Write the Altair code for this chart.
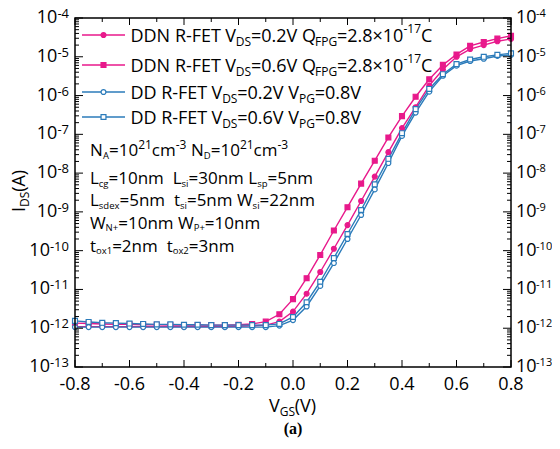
import altair as alt
import pandas as pd

# ---------------- data ----------------
vgs = [-0.80, -0.75, -0.70, -0.65, -0.60, -0.55, -0.50, -0.45, -0.40, -0.35, -0.30,
       -0.25, -0.20, -0.15, -0.10, -0.05, 0.00, 0.05, 0.10, 0.15, 0.20, 0.25, 0.30,
       0.35, 0.40, 0.45, 0.50, 0.55, 0.60, 0.65, 0.70, 0.75, 0.80]

ddn_02 = [1.10e-12, 1.10e-12, 1.10e-12, 1.10e-12, 1.10e-12, 1.10e-12, 1.10e-12, 1.10e-12,
          1.10e-12, 1.10e-12, 1.10e-12, 1.10e-12, 1.12e-12, 1.15e-12, 1.20e-12, 1.48e-12,
          2.69e-12, 7.76e-12, 2.82e-11, 1.12e-10, 4.57e-10, 1.91e-9, 8.13e-9, 3.47e-8,
          1.45e-7, 5.01e-7, 1.80e-6, 4.70e-6, 1.00e-5, 1.58e-5, 2.00e-5, 2.51e-5, 2.88e-5]

ddn_06 = [1.35e-12, 1.32e-12, 1.29e-12, 1.26e-12, 1.26e-12, 1.23e-12, 1.23e-12, 1.20e-12,
          1.20e-12, 1.20e-12, 1.20e-12, 1.20e-12, 1.23e-12, 1.29e-12, 1.48e-12, 2.29e-12,
          5.62e-12, 1.95e-11, 7.76e-11, 3.31e-10, 1.32e-9, 5.37e-9, 2.09e-8, 8.32e-8,
          2.95e-7, 9.33e-7, 2.63e-6, 6.17e-6, 1.15e-5, 1.91e-5, 2.40e-5, 2.95e-5, 3.47e-5]

dd_02 = [1.07e-12, 1.07e-12, 1.07e-12, 1.07e-12, 1.07e-12, 1.07e-12, 1.07e-12, 1.07e-12,
         1.07e-12, 1.07e-12, 1.07e-12, 1.07e-12, 1.07e-12, 1.07e-12, 1.07e-12, 1.17e-12,
         1.62e-12, 3.63e-12, 1.23e-11, 4.79e-11, 2.00e-10, 8.32e-10, 3.80e-9, 1.82e-8,
         9.12e-8, 3.63e-7, 1.26e-6, 3.24e-6, 5.89e-6, 7.76e-6, 8.91e-6, 1.05e-5, 1.12e-5]

dd_06 = [1.55e-12, 1.45e-12, 1.38e-12, 1.35e-12, 1.32e-12, 1.29e-12, 1.26e-12, 1.26e-12,
         1.23e-12, 1.23e-12, 1.20e-12, 1.20e-12, 1.20e-12, 1.20e-12, 1.20e-12, 1.29e-12,
         1.95e-12, 4.68e-12, 1.58e-11, 6.46e-11, 2.69e-10, 1.12e-9, 5.13e-9, 2.34e-8,
         1.07e-7, 4.47e-7, 1.48e-6, 3.55e-6, 6.46e-6, 8.51e-6, 1.00e-5, 1.12e-5, 1.23e-5]

series_names = ["DDN 0.2", "DDN 0.6", "DD 0.2", "DD 0.6"]
series_vals = [ddn_02, ddn_06, dd_02, dd_06]
x_tick_vals = [-0.8, -0.6, -0.4, -0.2, 0.0, 0.2, 0.4, 0.6, 0.8]
x_tick_text = ["-0.8", "-0.6", "-0.4", "-0.2", "0.0", "0.2", "0.4", "0.6", "0.8"]
y_decades = [-13, -12, -11, -10, -9, -8, -7, -6, -5, -4]

PINK = "#E8198B"
BLUE = "#2B7BBA"
FONT = "Open Sans"

W, H = 436, 349

# ---------------- helpers (text metrics, Open Sans units / 2048) ----------------
ADV = {' ': 532, '+': 1171, '-': 659, '.': 545, '=': 1171, '×': 1171, '(': 596, ')': 596,
       'A': 1296, 'C': 1268, 'D': 1479, 'E': 1120, 'F': 1047, 'G': 1458, 'I': 571,
       'L': 1061, 'N': 1561, 'P': 1235, 'Q': 1479, 'R': 1268, 'S': 1100, 'T': 1100,
       'V': 1212, 'W': 1878, 'a': 1139, 'c': 975, 'd': 1255, 'e': 1149, 'g': 1122,
       'i': 518, 'm': 1905, 'n': 1257, 'o': 1237, 'p': 1255, 's': 977, 't': 723, 'x': 1073}
for d in "0123456789":
    ADV[d] = 1171


def tw(s, fs):
    return sum(ADV.get(c, 1150) for c in s) / 2048.0 * fs


def layout(segs, x0, base, fs, sub_fs, sup_fs, sub_dy, sup_dy):
    rows = []
    x = x0
    for t, k in segs:
        if k == "n":
            size, y = fs, base
        elif k == "sub":
            size, y = sub_fs, base + sub_dy
        else:
            size, y = sup_fs, base - sup_dy
        word = ""
        wx = x
        for c in t:
            if c == " ":
                if word:
                    rows.append(dict(px=wx, py=y, txt=word, fs=size))
                    word = ""
                x += tw(" ", size)
                wx = x
            else:
                word += c
                x += tw(c, size)
        if word:
            rows.append(dict(px=wx, py=y, txt=word, fs=size))
    return rows


# ---------------- scales ----------------
xscale = alt.Scale(domain=[-0.8, 0.8], nice=False, zero=False)
yscale = alt.Scale(type="log", domain=[1e-13, 1e-4], nice=False)
PXS = alt.Scale(domain=[0, W], range=[0, W], nice=False, zero=False)
PYS = alt.Scale(domain=[0, H], range=[0, H], nice=False, zero=False)

rows = []
for name, vals in zip(series_names, series_vals):
    for v, i in zip(vgs, vals):
        rows.append(dict(series=name, vgs=v, ids=i))
df = pd.DataFrame(rows)

color_sc = alt.Scale(domain=series_names, range=[PINK, PINK, BLUE, BLUE])
fill_sc = alt.Scale(domain=series_names, range=[PINK, PINK, "white", "white"])
shape_sc = alt.Scale(domain=series_names, range=["circle", "square", "circle", "square"])

lines = alt.Chart(df).mark_line(strokeWidth=1.4, clip=True).encode(
    x=alt.X("vgs:Q", scale=xscale, axis=None),
    y=alt.Y("ids:Q", scale=yscale, axis=None),
    color=alt.Color("series:N", scale=color_sc, legend=None),
    detail="series:N",
    order=alt.Order("vgs:Q"),
)
points = alt.Chart(df).mark_point(filled=True, size=24, strokeWidth=1.2, opacity=1).encode(
    x=alt.X("vgs:Q", scale=xscale, axis=None),
    y=alt.Y("ids:Q", scale=yscale, axis=None),
    stroke=alt.Stroke("series:N", scale=color_sc, legend=None),
    fill=alt.Fill("series:N", scale=fill_sc, legend=None),
    shape=alt.Shape("series:N", scale=shape_sc, legend=None),
)

# ---------------- frame ----------------
frame = alt.Chart(pd.DataFrame({"k": [0]})).mark_rect(
    fill="transparent", stroke="black", strokeWidth=1.5).encode(
    x=alt.value(0), x2=alt.value(W), y=alt.value(0), y2=alt.value(H))

# ---------------- ticks ----------------
ymaj = pd.DataFrame({"t": [10.0 ** e for e in y_decades]})
ymin = pd.DataFrame({"t": [k * 10.0 ** e for e in y_decades[:-1] for k in range(2, 10)]})
xt_all = [round(-0.8 + 0.1 * i, 1) for i in range(17)]
xmaj = pd.DataFrame({"t": [t for t in xt_all if t in x_tick_vals]})
xmin = pd.DataFrame({"t": [t for t in xt_all if t not in x_tick_vals]})


def yticks(d, x1, x2):
    return alt.Chart(d).mark_rule(color="black", strokeWidth=1).encode(
        y=alt.Y("t:Q", scale=yscale, axis=None), x=alt.value(x1), x2=alt.value(x2))


def xticks(d, y1, y2):
    return alt.Chart(d).mark_rule(color="black", strokeWidth=1).encode(
        x=alt.X("t:Q", scale=xscale, axis=None), y=alt.value(y1), y2=alt.value(y2))


ticks = [yticks(ymaj, 0, 8), yticks(ymin, 0, 4), yticks(ymaj, W - 8, W), yticks(ymin, W - 4, W),
         xticks(xmaj, H - 7, H), xticks(xmin, H - 4, H), xticks(xmaj, 0, 7), xticks(xmin, 0, 4)]

# ---------------- x tick labels ----------------
xlab = pd.DataFrame({"t": x_tick_vals, "lab": x_tick_text})
xlabels = alt.Chart(xlab).mark_text(align="center", baseline="alphabetic", font=FONT,
                                    fontSize=18, color="black").encode(
    x=alt.X("t:Q", scale=xscale, axis=None), y=alt.value(H + 23), text="lab:N")

# ---------------- y tick labels (10^n) ----------------
ylab = pd.DataFrame({"val": [10.0 ** e for e in y_decades],
                     "base": ["10"] * len(y_decades),
                     "sup": ["-%d" % (-e) for e in y_decades],
                     "two": [e <= -10 for e in y_decades]})
LFS, SFS = 18, 13
ylayers = []
for two in [False, True]:
    d = ylab[ylab["two"] == two]
    supw = tw("-10" if two else "-4", SFS)
    ylayers.append(alt.Chart(d).mark_text(align="right", baseline="middle", font=FONT,
                                          fontSize=LFS, color="black").encode(
        y=alt.Y("val:Q", scale=yscale, axis=None), x=alt.value(-6 - supw), text="base:N"))
ylayers.append(alt.Chart(ylab).mark_text(align="right", baseline="middle", font=FONT,
                                         fontSize=SFS, color="black", dy=-4).encode(
    y=alt.Y("val:Q", scale=yscale, axis=None), x=alt.value(-6), text="sup:N"))
RX = W + 5
RSFS = 11
ylayers.append(alt.Chart(ylab).mark_text(align="left", baseline="middle", font=FONT,
                                         fontSize=LFS, color="black").encode(
    y=alt.Y("val:Q", scale=yscale, axis=None), x=alt.value(RX), text="base:N"))
ylayers.append(alt.Chart(ylab).mark_text(align="left", baseline="middle", font=FONT,
                                         fontSize=RSFS, color="black", dy=-4).encode(
    y=alt.Y("val:Q", scale=yscale, axis=None), x=alt.value(RX + tw("10", LFS) - 0.5), text="sup:N"))

# ---------------- legend (manual, with sub/superscripts) ----------------
leg_y = [17, 47, 74, 99]
leg_segs = [
    [("DDN R-FET V", "n"), ("DS", "sub"), ("=0.2V Q", "n"), ("FPG", "sub"), ("=2.8×10", "n"), ("-17", "sup"), ("C", "n")],
    [("DDN R-FET V", "n"), ("DS", "sub"), ("=0.6V Q", "n"), ("FPG", "sub"), ("=2.8×10", "n"), ("-17", "sup"), ("C", "n")],
    [("DD R-FET V", "n"), ("DS", "sub"), ("=0.2V V", "n"), ("PG", "sub"), ("=0.8V", "n")],
    [("DD R-FET V", "n"), ("DS", "sub"), ("=0.6V V", "n"), ("PG", "sub"), ("=0.8V", "n")],
]
text_rows = []
for yy, segs in zip(leg_y, leg_segs):
    text_rows += layout(segs, 55.5, yy + 6.5, 18, 12, 12, 4, 9)

ann_base = [138, 166, 188, 210.5, 233.5]
ann_segs = [
    [("N", "n"), ("A", "sub"), ("=10", "n"), ("21", "sup"), ("cm", "n"), ("-3", "sup"), (" N", "n"), ("D", "sub"), ("=10", "n"), ("21", "sup"), ("cm", "n"), ("-3", "sup")],
    [("L", "n"), ("cg", "sub"), ("=10nm  L", "n"), ("si", "sub"), ("=30nm L", "n"), ("sp", "sub"), ("=5nm", "n")],
    [("L", "n"), ("sdex", "sub"), ("=5nm  t", "n"), ("si", "sub"), ("=5nm W", "n"), ("si", "sub"), ("=22nm", "n")],
    [("W", "n"), ("N+", "sub"), ("=10nm W", "n"), ("P+", "sub"), ("=10nm", "n")],
    [("t", "n"), ("ox1", "sub"), ("=2nm  t", "n"), ("ox2", "sub"), ("=3nm", "n")],
]
for b, segs in zip(ann_base, ann_segs):
    text_rows += layout(segs, 15, b, 17, 9.5, 12, 2.5, 7.5)

# x title
text_rows += layout([("V", "n"), ("GS", "sub"), ("(V)", "n")], 194, 394, 18, 12, 12, 4, 8)
tdf = pd.DataFrame(text_rows)

texts = alt.Chart(tdf).mark_text(align="left", baseline="alphabetic", font=FONT, color="black").encode(
    x=alt.X("px:Q", scale=PXS, axis=None),
    y=alt.Y("py:Q", scale=PYS, axis=None),
    text="txt:N",
    size=alt.Size("fs:Q", scale=None, legend=None),
)

# y title (rotated)
yt_rows = []
ybx, yy0 = -50, 194
yt_rows.append(dict(px=ybx, py=yy0, txt="I", fs=18))
yt_rows.append(dict(px=ybx + 4, py=yy0 - tw("I", 18), txt="DS", fs=12))
yt_rows.append(dict(px=ybx, py=yy0 - tw("I", 18) - tw("DS", 12), txt="(A)", fs=18))
ytitle = alt.Chart(pd.DataFrame(yt_rows)).mark_text(align="left", baseline="alphabetic", font=FONT,
                                                    color="black", angle=270).encode(
    x=alt.X("px:Q", scale=PXS, axis=None),
    y=alt.Y("py:Q", scale=PYS, axis=None),
    text="txt:N",
    size=alt.Size("fs:Q", scale=None, legend=None),
)

caption = alt.Chart(pd.DataFrame({"txt": ["(a)"]})).mark_text(
    align="center", baseline="alphabetic", font="Liberation Serif", fontWeight="bold",
    fontSize=16, color="black").encode(x=alt.value(218), y=alt.value(416), text="txt:N")

# legend samples
leg_df = pd.DataFrame({"series": series_names, "ly": leg_y, "lx1": [7] * 4, "lx2": [50] * 4, "lm": [28.5] * 4})
leg_lines = alt.Chart(leg_df).mark_rule(strokeWidth=1.4).encode(
    x=alt.X("lx1:Q", scale=PXS, axis=None), x2="lx2:Q",
    y=alt.Y("ly:Q", scale=PYS, axis=None),
    color=alt.Color("series:N", scale=color_sc, legend=None))
leg_pts = alt.Chart(leg_df).mark_point(filled=True, size=24, strokeWidth=1.2, opacity=1).encode(
    x=alt.X("lm:Q", scale=PXS, axis=None),
    y=alt.Y("ly:Q", scale=PYS, axis=None),
    stroke=alt.Stroke("series:N", scale=color_sc, legend=None),
    fill=alt.Fill("series:N", scale=fill_sc, legend=None),
    shape=alt.Shape("series:N", scale=shape_sc, legend=None))

chart = alt.layer(
    lines, points, frame, *ticks, xlabels, *ylayers, texts, ytitle, caption, leg_lines, leg_pts
).resolve_scale(x="independent", y="independent").properties(
    width=W, height=H,
    autosize=alt.AutoSizeParams(type="none"),
    padding={"left": 67, "top": 10, "right": 41, "bottom": 71},
).configure_view(stroke=None)

chart.save("out.html", embed_options={"renderer": "svg", "actions": False})
